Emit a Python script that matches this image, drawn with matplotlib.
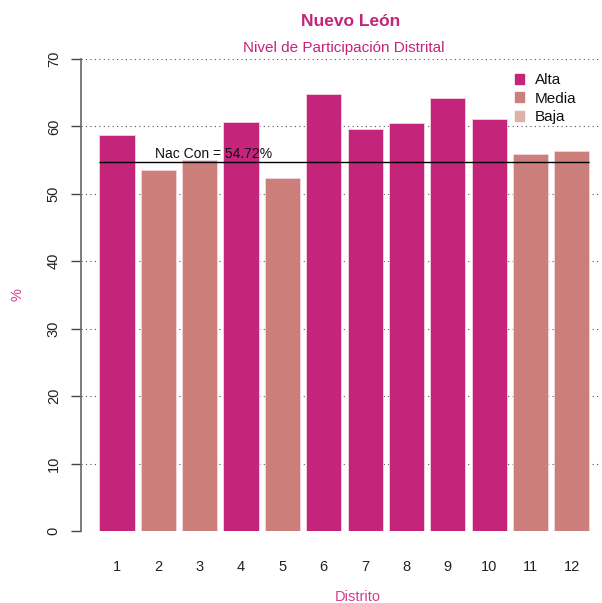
import matplotlib.pyplot as plt
import numpy as np

plt.rcParams['font.family'] = ['Liberation Sans', 'DejaVu Sans']

# data
distritos = list(range(1, 13))
participacion = [58.7, 53.5, 55.0, 60.6, 52.4, 64.85, 59.6, 60.5, 64.2, 61.1, 55.95, 56.4]
nivel = ['Alta', 'Media', 'Media', 'Alta', 'Media', 'Alta', 'Alta', 'Alta', 'Alta', 'Alta', 'Media', 'Media']
nac_con = 54.72

colores = {'Alta': '#C42479', 'Media': '#CC7E7B', 'Baja': '#DDB0AA'}
titulo_color = '#C42479'
rosa = '#D63C8C'

fig = plt.figure(figsize=(6.02, 6.03), dpi=100)
ax = fig.add_axes([81 / 602, 72 / 603, 519 / 602, 472 / 603])

# dotted grid behind bars
for v in range(0, 71, 10):
    ax.axhline(v, color='#555555', lw=0.8, ls=(0, (1, 3)), zorder=0)

ax.bar(distritos, participacion, width=0.85,
       color=[colores[n] for n in nivel], edgecolor='#F3D6E2', linewidth=0.6, zorder=2)

ax.hlines(nac_con, 1 - 0.425, 12 + 0.425, color='black', lw=1, zorder=3)
ax.text(1.92, nac_con + 0.2, f'Nac Con = {nac_con:.2f}%', ha='left', va='bottom',
        fontsize=10, color='#111111', zorder=4)

ax.set_xlim(0.13, 12.68)
ax.set_ylim(0, 70)
for s in ['top', 'right', 'bottom']:
    ax.spines[s].set_visible(False)
ax.spines['left'].set_color('#666666')
ax.spines['left'].set_linewidth(1.2)
ax.spines['left'].set_bounds(0, 70)

ax.set_yticks(range(0, 71, 10))
ax.set_yticklabels([str(v) for v in range(0, 71, 10)], rotation=90, va='center',
                   fontsize=10.5, color='#222222')
ax.tick_params(axis='y', length=7, width=1, color='#444444', pad=7.5)
ax.set_xticks(distritos)
ax.set_xticklabels([str(d) for d in distritos], fontsize=10.5, color='#222222')
ax.tick_params(axis='x', length=0, pad=21)

fig.text(358 / 602, 1 - 597 / 603, 'Distrito', ha='center', va='center',
         color=rosa, fontsize=10.5)
fig.text(17 / 602, 1 - 295 / 603, '%', ha='center', va='center', rotation=90,
         color=rosa, fontsize=10.5)

fig.text(351 / 602, 1 - 21 / 603, 'Nuevo León', ha='center', va='center',
         fontsize=12.5, fontweight='bold', color=titulo_color)
fig.text(344 / 602, 1 - 48 / 603, 'Nivel de Participación Distrital', ha='center', va='center',
         fontsize=11, color=titulo_color)

handles = [plt.Rectangle((0, 0), 1, 1, color=colores[k]) for k in ['Alta', 'Media', 'Baja']]
leg = ax.legend(handles, ['Alta', 'Media', 'Baja'], loc='upper left',
                bbox_to_anchor=((509 - 81) / 519, 1 - 8 / 472),
                frameon=False, fontsize=11, handlelength=0.6, handleheight=0.6,
                handletextpad=0.7, labelspacing=0.3, borderaxespad=0)
for t in leg.get_texts():
    t.set_color('#111111')

fig.savefig('out.png', dpi=100)
